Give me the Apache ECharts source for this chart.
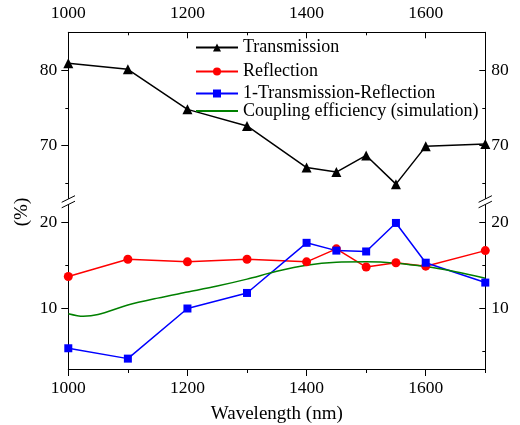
<!DOCTYPE html>
<html lang="en">
  <head>
    <meta charset="UTF-8" />
    <title>Transmission / Reflection</title>
    <script src="https://cdn.jsdelivr.net/npm/echarts@6/dist/echarts.min.js"></script>
    <style>
      html, body { margin: 0; padding: 0; background: #fff; }
      #main { width: 520px; height: 425px; }
    </style>
  </head>
  <body>
    <div id="main"></div>
    <script>
      // measured points
      const wavelengths = [1000, 1100, 1200, 1300, 1400, 1450, 1500, 1550, 1600, 1700];
      const transmission = [80.9, 80.1, 74.8, 72.6, 67.1, 66.5, 68.7, 64.9, 69.9, 70.2];
      const reflection = [13.7, 15.7, 15.4, 15.7, 15.4, 16.9, 14.8, 15.3, 14.9, 16.7];
      const oneMinusTR = [5.4, 4.2, 10.0, 11.8, 17.6, 16.7, 16.6, 19.9, 15.3, 13.0];
      // simulation curve
      const simWavelengths = [1000, 1025, 1050, 1100, 1150, 1200, 1250, 1300, 1350, 1400, 1450, 1500, 1550, 1600, 1650, 1700];
      const coupling = [9.4, 9.1, 9.3, 10.4, 11.2, 11.9, 12.6, 13.4, 14.3, 15.0, 15.35, 15.4, 15.25, 14.85, 14.25, 13.5];

      // ticks
      const xMajor = [1000, 1200, 1400, 1600];
      const xMinor = [1100, 1300, 1500, 1700];
      const upperMajor = [70, 80];
      const upperMinor = [65, 75];
      const lowerMajor = [10, 20];
      const lowerMinor = [5, 15];

      const font = "Liberation Serif";
      const black = "#000";

      const chart = echarts.init(document.getElementById("main"));

      function xAxis(grid, pos, ticks, len, inside, labels, extra) {
        return Object.assign({
          type: "value", gridIndex: grid, position: pos, min: 1000, max: 1700,
          splitLine: { show: false },
          axisLine: { show: !!labels, onZero: false, lineStyle: { color: black, width: 1 } },
          axisTick: { show: true, inside: inside, length: len, customValues: ticks, lineStyle: { color: black } },
          axisLabel: labels
            ? { show: true, customValues: labels, margin: 10, color: black, fontFamily: font, fontSize: 17.5,
                formatter: (v) => String(v) }
            : { show: false },
        }, extra || {});
      }

      function yAxis(grid, pos, min, max, ticks, len, inside, labels, margin) {
        return {
          type: "value", gridIndex: grid, position: pos, min: min, max: max,
          splitLine: { show: false },
          axisLine: { show: !!labels, onZero: false, lineStyle: { color: black, width: 1 } },
          axisTick: { show: true, inside: inside, length: len, customValues: ticks, lineStyle: { color: black } },
          axisLabel: labels
            ? { show: true, customValues: labels, margin: margin, color: black, fontFamily: font, fontSize: 17.5 }
            : { show: false },
        };
      }

      function legend(name, cy, noSymbol) {
        return {
          data: [noSymbol ? { name: name, itemStyle: { opacity: 0 } } : name],
          left: 195, top: cy - 8, padding: 0,
          itemWidth: 42, itemHeight: 10, selectedMode: false,
          textStyle: { fontFamily: font, fontSize: 18, color: black },
        };
      }

      const option = {
        animation: false,
        backgroundColor: "#fff",
        grid: [
          { left: 68.3, right: 34.7, top: 32.3, height: 166.2 },
          { left: 68.3, right: 34.7, top: 204.8, height: 166.7 },
        ],
        legend: [
          legend("Transmission", 46.5),
          legend("Reflection", 70.5),
          legend("1-Transmission-Reflection", 92.5),
          legend("Coupling efficiency (simulation)", 110),
        ].map((l, i) => (i === 3 ? legend("Coupling efficiency (simulation)", 110, true) : l)),
        xAxis: [
          xAxis(0, "top", xMajor, 6, true, xMajor),
          xAxis(0, "top", xMinor, 3, true, null),
          xAxis(1, "bottom", xMajor, 7, false, xMajor, {
            name: "Wavelength (nm)", nameLocation: "middle", nameGap: 36,
            nameTextStyle: { fontFamily: font, fontSize: 19, color: black },
          }),
          xAxis(1, "bottom", xMinor, 4, false, null),
        ],
        yAxis: [
          yAxis(0, "left", 63, 85, upperMajor, 7, false, upperMajor, 11),
          yAxis(0, "left", 63, 85, upperMinor, 3, false, null),
          yAxis(0, "right", 63, 85, upperMajor, 6, true, upperMajor, 6),
          yAxis(0, "right", 63, 85, upperMinor, 3, true, null),
          yAxis(1, "left", 3, 22, lowerMajor, 7, false, lowerMajor, 11),
          yAxis(1, "left", 3, 22, lowerMinor, 3, false, null),
          yAxis(1, "right", 3, 22, lowerMajor, 6, true, lowerMajor, 6),
          yAxis(1, "right", 3, 22, lowerMinor, 3, true, null),
        ],
        graphic: [
          {
            type: "text", x: 22, y: 212, rotation: Math.PI / 2,
            style: { text: "(%)", font: "19px 'Liberation Serif'", fill: black, align: "center", verticalAlign: "middle" },
          },
          // axis break marks
          { type: "line", shape: { x1: 61.7, y1: 202.3, x2: 75, y2: 195.7 }, style: { stroke: black, lineWidth: 1 } },
          { type: "line", shape: { x1: 61.7, y1: 207.8, x2: 75, y2: 201.2 }, style: { stroke: black, lineWidth: 1 } },
          { type: "line", shape: { x1: 478.6, y1: 202.3, x2: 491.9, y2: 195.7 }, style: { stroke: black, lineWidth: 1 } },
          { type: "line", shape: { x1: 478.6, y1: 207.8, x2: 491.9, y2: 201.2 }, style: { stroke: black, lineWidth: 1 } },
        ],
        series: [
          {
            name: "Transmission", type: "line", xAxisIndex: 0, yAxisIndex: 0,
            data: wavelengths.map((w, i) => [w, transmission[i]]),
            symbol: "triangle", symbolSize: 10,
            lineStyle: { color: black, width: 1.5 }, itemStyle: { color: black },
          },
          {
            name: "Reflection", type: "line", xAxisIndex: 2, yAxisIndex: 4,
            data: wavelengths.map((w, i) => [w, reflection[i]]),
            symbol: "circle", symbolSize: 9,
            lineStyle: { color: "#ff0000", width: 1.5 }, itemStyle: { color: "#ff0000" },
          },
          {
            name: "1-Transmission-Reflection", type: "line", xAxisIndex: 2, yAxisIndex: 4,
            data: wavelengths.map((w, i) => [w, oneMinusTR[i]]),
            symbol: "rect", symbolSize: 8,
            lineStyle: { color: "#0000ff", width: 1.5 }, itemStyle: { color: "#0000ff" },
          },
          {
            name: "Coupling efficiency (simulation)", type: "line", xAxisIndex: 2, yAxisIndex: 4,
            data: simWavelengths.map((w, i) => [w, coupling[i]]),
            symbol: "none", smooth: 0.3,
            lineStyle: { color: "#008000", width: 1.5 }, itemStyle: { color: "#008000" },
          },
        ],
      };

      chart.setOption(option);
    </script>
  </body>
</html>
